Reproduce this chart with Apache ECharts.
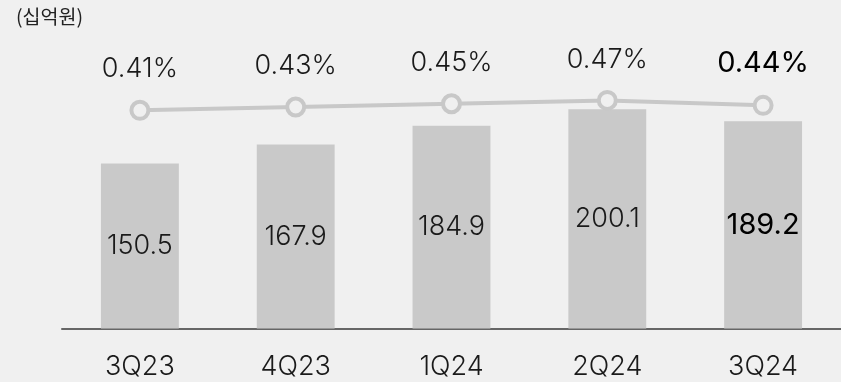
<!DOCTYPE html>
<html>
<head>
<meta charset="utf-8">
<script src="https://cdn.jsdelivr.net/npm/echarts@6/dist/echarts.min.js"></script>
<style>
  html, body { margin: 0; padding: 0; background: #f0f0f0; }
  #chart { width: 841px; height: 382px; }
</style>
</head>
<body>
<div id="chart"></div>
<script>
// Quarterly amounts (KRW bn) and ratio (%)
const categories = ['3Q23', '4Q23', '1Q24', '2Q24', '3Q24'];
const amounts = [150.5, 167.9, 184.9, 200.1, 189.2];
const ratios = [0.41, 0.43, 0.45, 0.47, 0.44];
const unitLabel = '(십억원)';

const FONT = 'Inter, "Noto Sans CJK KR", sans-serif';
const last = categories.length - 1;
// latest quarter is emphasised
const lastLabel = { fontWeight: 400, color: '#000', fontSize: 29 };

const chart = echarts.init(document.getElementById('chart'), null, { renderer: 'canvas' });

chart.setOption({
  backgroundColor: '#f0f0f0',
  animation: false,
  graphic: [{
    type: 'text',
    left: 16,
    top: 7,
    style: { text: unitLabel, fill: '#222', font: '19.5px "Noto Sans CJK KR", sans-serif' }
  }],
  grid: { left: 62, right: -4, top: 54.5, bottom: 53.5 },
  xAxis: {
    type: 'category',
    data: categories,
    axisLine: { show: true, lineStyle: { color: '#666', width: 2 } },
    axisTick: { show: false },
    axisLabel: { color: '#1a1a1a', fontSize: 27, fontWeight: 300, fontFamily: FONT, margin: 25 }
  },
  yAxis: [
    { type: 'value', min: 0, max: 250, show: false },
    { type: 'value', min: -0.92, max: 0.75, show: false }
  ],
  series: [
    {
      type: 'bar',
      yAxisIndex: 0,
      barWidth: '50%',
      data: amounts.map((v, i) => ({
        value: v,
        label: i === last ? lastLabel : {}
      })),
      itemStyle: { color: '#c9c9c9' },
      label: {
        show: true,
        position: 'inside',
        color: '#1a1a1a',
        fontSize: 27,
        fontWeight: 300,
        fontFamily: FONT,
        formatter: p => p.value.toFixed(1)
      }
    },
    {
      type: 'line',
      yAxisIndex: 1,
      data: ratios.map((v, i) => ({
        value: v,
        label: i === last ? lastLabel : {}
      })),
      symbol: 'circle',
      symbolSize: 17,
      lineStyle: { color: '#c8c8c8', width: 4 },
      itemStyle: { color: '#f0f0f0', borderColor: '#c8c8c8', borderWidth: 4 },
      label: {
        show: true,
        position: 'top',
        distance: 17,
        color: '#1a1a1a',
        fontSize: 27,
        fontWeight: 300,
        fontFamily: FONT,
        formatter: p => p.value.toFixed(2) + '%'
      }
    }
  ]
});
</script>
</body>
</html>
